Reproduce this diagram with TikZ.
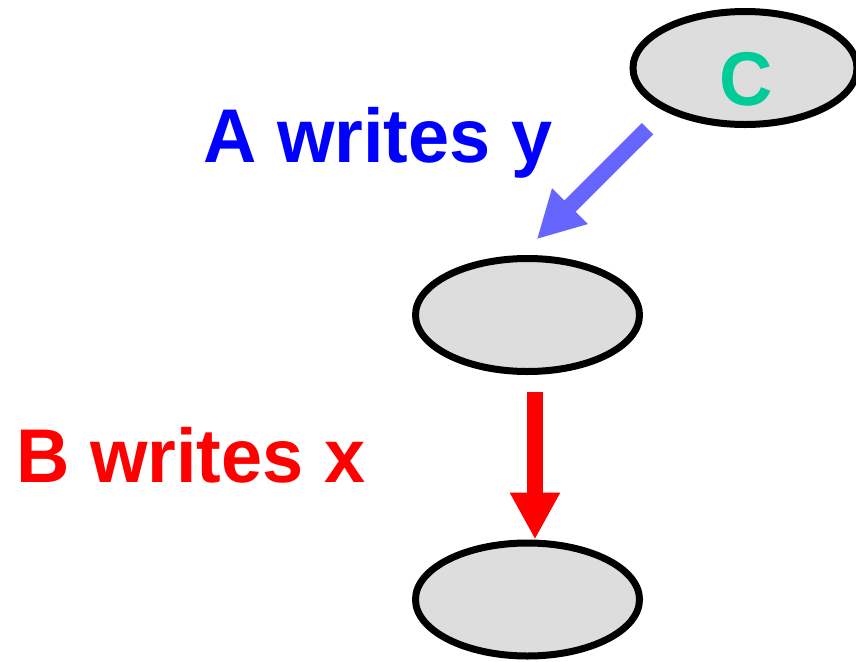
\documentclass[tikz,border=0pt]{standalone}
\usepackage{fontspec}
\setmainfont{Liberation Sans}[BoldFeatures={FakeStretch=0.97}]
\usetikzlibrary{shapes.geometric,arrows.meta}
\definecolor{ovalgray}{HTML}{DDDDDD}
\definecolor{ablue}{HTML}{0000FF}
\definecolor{arrowblue}{HTML}{6666FF}
\definecolor{cgreen}{HTML}{00CC99}
\tikzset{
  oval/.style={ellipse,draw=black,fill=ovalgray,line width=0.21cm,
    minimum width=6.72cm,minimum height=3.39cm,inner sep=0pt},
  big/.style={font=\fontsize{65}{70}\selectfont\bfseries,inner sep=0pt},
  fat arrow/.style={line width=0.48cm,-{Triangle[length=1.41cm,width=1.41cm]}},
}

\begin{document}
\begin{tikzpicture}[x=0.03cm,y=-0.03cm]
\useasboundingbox (0,0) rectangle (856,661);
\node[oval] (c) at (745,68) {};
\node[oval] (mid) at (527.5,315) {};
\node[oval] (bot) at (527.5,599.5) {};
\node[big,text=cgreen] (ctext) at (746,79) {C};
%
\node[big,text=ablue,anchor=base west] (alabel) at (203,162) {A writes y};
\node[big,text=red,anchor=base west] (blabel) at (16,482) {B writes x};
%
\coordinate (ytail) at (647.5,128.7);
\coordinate (yhead) at (536.7,239.3);
\draw[fat arrow,arrowblue] (ytail) -- (yhead);
\coordinate (xtail) at (535,392);
\draw[fat arrow,red] (xtail) -- (xtail |- bot.north);
\end{tikzpicture}
\end{document}
